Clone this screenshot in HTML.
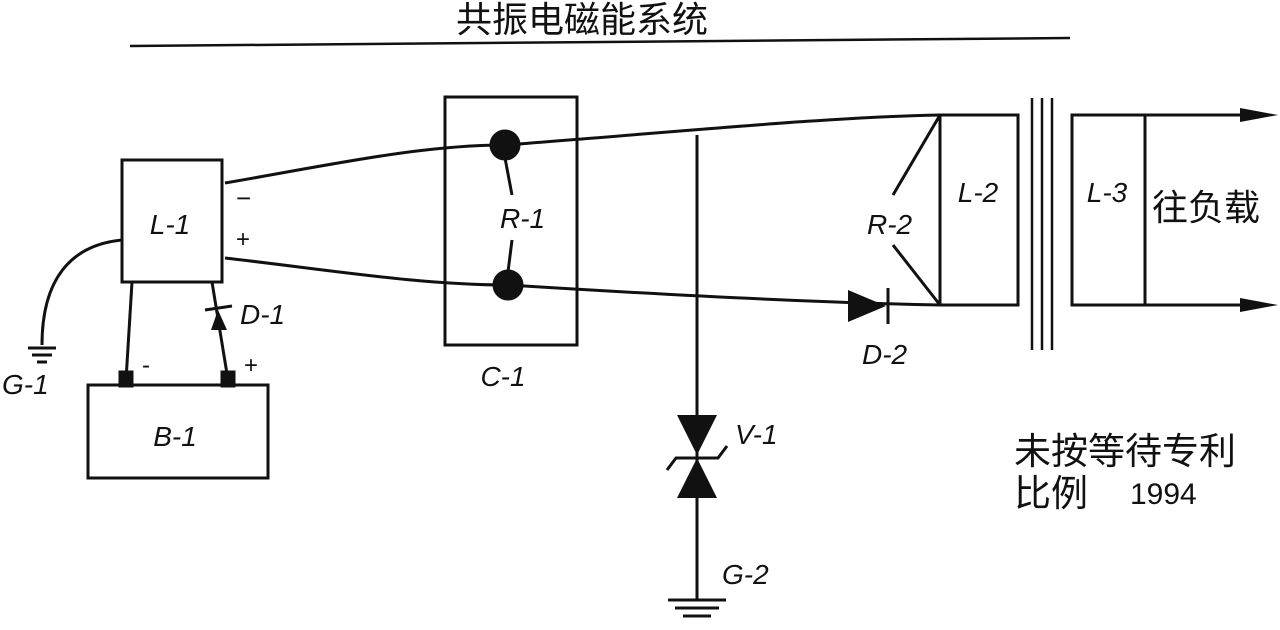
<!DOCTYPE html>
<html><head><meta charset="utf-8"><style>
html,body{margin:0;padding:0;background:#fff;width:1280px;height:630px;overflow:hidden}
text{font-family:"Liberation Sans","Noto Sans CJK SC",sans-serif;fill:#111}
.l{font-style:italic;font-size:28px}
</style></head><body>
<svg width="1280" height="630" viewBox="0 0 1280 630" stroke="#111" fill="none" stroke-width="3">
<text x="582" y="32" font-size="36" text-anchor="middle" stroke="none">共振电磁能系统</text>
<path d="M130 46 L1070 38" stroke-width="2.5"/>
<rect x="122" y="160" width="100" height="122"/>
<text class="l" x="170" y="234" text-anchor="middle" stroke="none">L-1</text>
<text x="236" y="207" font-size="26" stroke="none">−</text>
<text x="236" y="247" font-size="24" stroke="none">+</text>
<path d="M122 240 C70 245 42 280 42 345"/>
<path d="M28 348 H56 M32 355 H52 M37 362 H47"/>
<text class="l" x="2" y="394" stroke="none">G-1</text>
<path d="M132 282 L126 380"/>
<rect x="120" y="372" width="12" height="14" fill="#111"/>
<text x="142" y="373" font-size="24" stroke="none">-</text>
<path d="M212 282 L228 380"/>
<rect x="222" y="372" width="12" height="14" fill="#111"/>
<text x="244" y="373" font-size="24" stroke="none">+</text>
<polygon points="211,330 227,330 218,310" fill="#111" stroke="none"/>
<path d="M205 310 L232 306"/>
<text class="l" x="240" y="324" stroke="none">D-1</text>
<rect x="88" y="385" width="180" height="93"/>
<text class="l" x="175" y="446" text-anchor="middle" stroke="none">B-1</text>
<rect x="445" y="97" width="132" height="248"/>
<text class="l" x="503" y="386" text-anchor="middle" stroke="none">C-1</text>
<circle cx="505" cy="145" r="14" fill="#111"/>
<circle cx="508" cy="285" r="14" fill="#111"/>
<path d="M505 158 L512 195 M512 240 L508 272"/>
<text class="l" x="500" y="228" stroke="none">R-1</text>
<path d="M225 183 C330 165 420 145 505 145 C700 130 830 117 940 115"/>
<path d="M225 258 C330 270 420 285 508 285 C700 297 830 303 940 305"/>
<path d="M697 135 V600"/>
<polygon points="677,415 717,415 697,455" fill="#111" stroke="none"/>
<polygon points="677,498 717,498 697,458" fill="#111" stroke="none"/>
<path d="M667 470 L676 458 H718 L727 446"/>
<text class="l" x="735" y="444" stroke="none">V-1</text>
<path d="M668 600 H726 M675 608 H719 M683 616 H711"/>
<text class="l" x="722" y="584" stroke="none">G-2</text>
<polygon points="848,290 848,322 886,306" fill="#111" stroke="none"/>
<path d="M888 288 V324"/>
<text class="l" x="862" y="364" stroke="none">D-2</text>
<path d="M940 115 L893 195 M893 245 L940 305"/>
<text class="l" x="867" y="234" stroke="none">R-2</text>
<rect x="940" y="115" width="78" height="190"/>
<text class="l" x="978" y="202" text-anchor="middle" stroke="none">L-2</text>
<path d="M1032 98 V350 M1042 98 V350 M1052 98 V350" stroke-width="2.5"/>
<rect x="1072" y="115" width="73" height="190"/>
<text class="l" x="1107" y="202" text-anchor="middle" stroke="none">L-3</text>
<path d="M1145 115 H1255 M1145 305 H1255"/>
<polygon points="1278,115 1240,108 1240,122" fill="#111" stroke="none"/>
<polygon points="1278,305 1240,298 1240,312" fill="#111" stroke="none"/>
<text x="1152" y="220" font-size="36" stroke="none">往负载</text>
<text x="1014" y="464" font-size="37" stroke="none">未按等待专利</text>
<text x="1014" y="506" font-size="37" stroke="none">比例</text>
<text x="1130" y="504" font-size="30" font-family="Liberation Mono" stroke="none">1994</text>
</svg>
</body></html>
